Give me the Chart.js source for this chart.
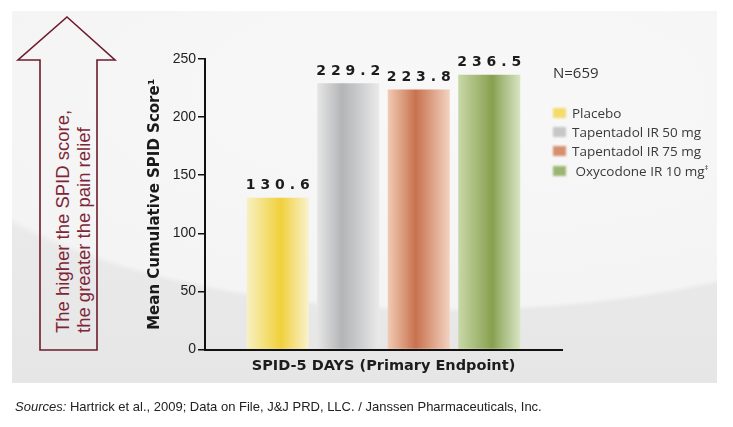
<!DOCTYPE html>
<html>
<head>
<meta charset="utf-8">
<script src="https://cdn.jsdelivr.net/npm/chart.js@4.4.1/dist/chart.umd.min.js"></script>
<style>
  html, body { margin:0; padding:0; background:#fff; }
  #wrap { position:relative; width:733px; height:427px; overflow:hidden; background:#fff; }
  #panel { position:absolute; left:12px; top:11px; width:705px; height:372px;
    background:
      radial-gradient(ellipse 95% 72% at 62% 22%, rgba(248,248,248,1) 0%, rgba(244,244,244,1) 80%, rgba(244,244,244,0) 82%),
      linear-gradient(180deg, #efefef 0%, #e6e6e6 100%);
  }
  #arrow { position:absolute; left:0; top:0; }
  #arrowText { position:absolute; left:73px; top:213px; width:240px; height:42px;
    transform: translate(-50%,-50%) rotate(-90deg); transform-origin:center;
    font-family:"Liberation Sans", Arial, sans-serif; font-size:18.5px; line-height:21px;
    color:#7e2536; text-align:left; white-space:nowrap; }
  #chartBox { position:absolute; left:0; top:0; width:733px; height:427px; }
  #nlabel { position:absolute; left:553px; top:62px; font-family:"Open Sans", sans-serif; font-size:15px; color:#333; }
  .leg { position:absolute; left:553px; font-family:"Open Sans", sans-serif; font-size:13.5px; color:#3a3a3a; white-space:nowrap; }
  .leg .sw { display:inline-block; width:13px; height:10px; margin-right:6px; vertical-align:-0px; filter:blur(0.8px); }
  #source { position:absolute; left:15px; top:399px; font-family:"Liberation Sans", Arial, sans-serif; font-size:13px; color:#222; white-space:nowrap; }
</style>
</head>
<body>
<div id="wrap">
  <div id="panel"></div>
  <svg id="arrow" width="140" height="400">
    <polygon points="67,17 115,60 97,60 97,350 40,350 40,60 18,60" fill="none" stroke="#6e1b2b" stroke-width="1.6" stroke-linejoin="miter"/>
  </svg>
  <div id="arrowText">The higher the SPID score,<br>the greater the pain relief</div>
  <div id="chartBox"><canvas id="c" width="733" height="427"></canvas></div>
  <div id="nlabel"></div>
  <div id="legend"></div>
  <div id="source"><i>Sources:</i> Hartrick et al., 2009; Data on File, J&amp;J PRD, LLC. / Janssen Pharmaceuticals, Inc.</div>
</div>
<script>
// ---- data ----
const categories = ['SPID-5 DAYS (Primary Endpoint)'];
const seriesNames = ['Placebo', 'Tapentadol IR 50 mg', 'Tapentadol IR 75 mg', 'Oxycodone IR 10 mg\u2021'];
const seriesValues = [130.6, 229.2, 223.8, 236.5];
const yTicks = [0, 50, 100, 150, 200, 250];
const sampleSize = 'N=659';

// ---- styles ----
const gradStops = [
  [[0,'#f8f0c4'],[0.35,'#f3dc6a'],[0.55,'#f1d03c'],[1,'#f9f2cf']],
  [[0,'#e6e6e6'],[0.4,'#b4b5b7'],[0.6,'#c4c5c7'],[1,'#eaeaea']],
  [[0,'#f1cbb3'],[0.45,'#c8724f'],[0.6,'#d48c6d'],[1,'#f2d3c2']],
  [[0,'#c9d8a8'],[0.55,'#87a04f'],[0.7,'#a3b97a'],[1,'#d9e5c3']]
];
const swatch = ['#f3dc6a','#c6c7c9','#d6906f','#9cb672'];

document.getElementById('nlabel').textContent = sampleSize;
const legendTops = [104, 123, 142, 161];
const legEl = document.getElementById('legend');
seriesNames.forEach((n, i) => {
  const d = document.createElement('div');
  d.className = 'leg';
  d.style.top = legendTops[i] + 'px';
  let txt = n;
  if (n.endsWith('\u2021')) txt = n.slice(0, -1) + '<sup style="font-size:8px">\u2021</sup>';
  d.innerHTML = '<span class="sw" style="background:' + swatch[i] + '"></span>' + (i === 3 ? '&nbsp;' : '') + txt;
  legEl.appendChild(d);
});

const gradientPlugin = {
  id: 'barGradients',
  beforeDatasetsDraw(chart) {
    const ctx = chart.ctx;
    chart.data.datasets.forEach((ds, di) => {
      const meta = chart.getDatasetMeta(di);
      meta.data.forEach(el => {
        const x0 = el.x - el.width / 2, x1 = el.x + el.width / 2;
        const g = ctx.createLinearGradient(x0, 0, x1, 0);
        gradStops[di].forEach(s => g.addColorStop(s[0], s[1]));
        el.options.backgroundColor = g;
      });
    });
  }
};

const labelPlugin = {
  id: 'valueLabels',
  afterDatasetsDraw(chart) {
    const ctx = chart.ctx;
    ctx.save();
    ctx.font = 'bold 14px "DejaVu Sans"';
    ctx.fillStyle = '#1c1c1c';
    ctx.textAlign = 'center';
    ctx.textBaseline = 'bottom';
    chart.data.datasets.forEach((ds, di) => {
      const meta = chart.getDatasetMeta(di);
      meta.data.forEach((el, i) => {
        const t = ds.data[i].toFixed(1).split('').join(' ');
        ctx.fillText(t, el.x, el.y - 5);
      });
    });
    ctx.restore();
  }
};

new Chart(document.getElementById('c'), {
  type: 'bar',
  data: {
    labels: categories,
    datasets: seriesNames.map((n, i) => ({
      label: n,
      data: [seriesValues[i]],
      backgroundColor: swatch[i],
      borderWidth: 0
    }))
  },
  options: {
    responsive: false,
    animation: false,
    devicePixelRatio: 1,
    categoryPercentage: 0.79,
    barPercentage: 0.88,
    layout: { padding: { left: 140, top: 59, right: 171, bottom: 44 } },
    plugins: { legend: { display: false }, tooltip: { enabled: false } },
    scales: {
      x: {
        grid: { display: false, drawTicks: false },
        border: { display: true, color: '#111', width: 2 },
        ticks: { color: '#1c1c1c', font: { family: 'DejaVu Sans', weight: 'bold', size: 14.5 }, padding: 8 }
      },
      y: {
        min: yTicks[0],
        max: yTicks[yTicks.length - 1],
        afterBuildTicks: s => { s.ticks = yTicks.map(v => ({ value: v })); },
        afterFit: s => { s.width = 65; },
        ticks: { color: '#222', font: { family: 'Liberation Sans', size: 14 }, padding: 2 },
        grid: { display: true, drawOnChartArea: false, drawTicks: true, tickLength: 7, color: '#111', lineWidth: 1.5 },
        border: { display: true, color: '#111', width: 2 },
        title: { display: true, text: 'Mean Cumulative SPID Score\u00b9', color: '#1a1a1a',
                 font: { family: 'DejaVu Sans', weight: 'bold', size: 15 }, padding: { top: 6, bottom: 0 } }
      }
    }
  },
  plugins: [gradientPlugin, labelPlugin]
});
</script>
</body>
</html>
